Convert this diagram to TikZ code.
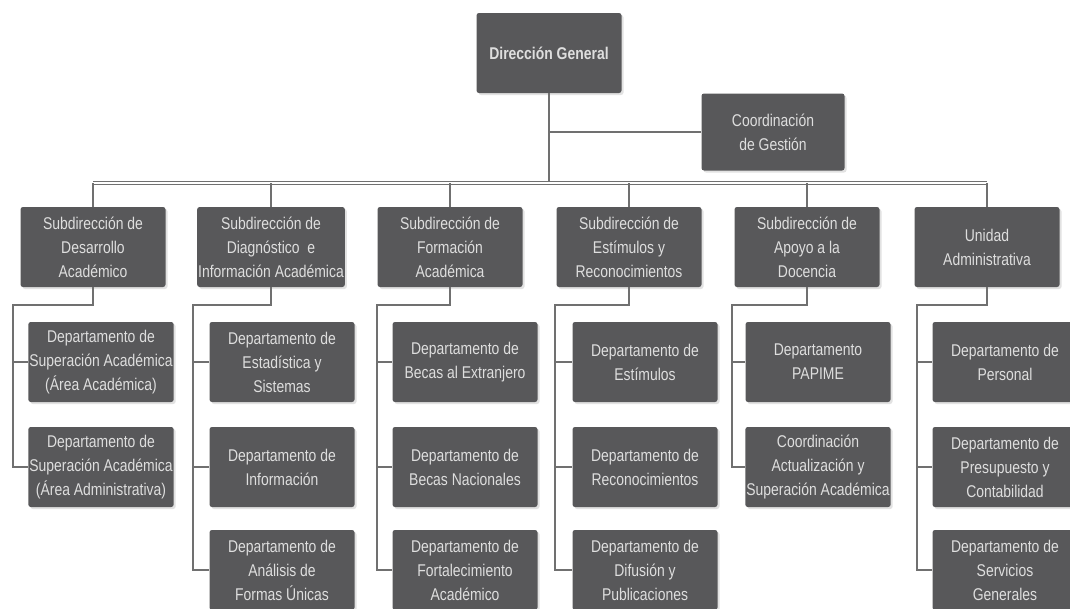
\documentclass[tikz,border=0pt]{standalone}
\usepackage{fontspec}
\setmainfont{Liberation Sans}[FakeStretch=0.82]
\usetikzlibrary{shadows}

\definecolor{boxgray}{HTML}{58585A}
\definecolor{boxtext}{HTML}{DEDEDE}
\definecolor{linegray}{HTML}{707070}

\begin{document}
\begin{tikzpicture}[x=1pt,y=-1pt,
    unitbox/.style={fill=boxgray, rounded corners=2.5pt, text=boxtext, align=center,
      minimum width=145pt, minimum height=80pt, inner sep=1pt,
      font=\fontsize{17}{24}\selectfont,
      drop shadow={shadow xshift=2pt, shadow yshift=-2pt, fill=black!22}},
    link/.style={draw=linegray, line width=1.3pt},
    busline/.style={draw=linegray, line width=0.9pt, double=white, double distance=1.8pt}]
  % Canvas
  \fill[white] (0,0) rectangle (1070,608);
  \useasboundingbox (0,0) rectangle (1070,608);

  % Top level
  \node[unitbox, font=\bfseries\fontsize{17}{24}\selectfont] (dg) at (549,53) {Dirección General};
  \node[unitbox, minimum width=143pt, minimum height=77pt] (cg) at (773,132) {Coordinación\\de Gestión};
  \coordinate (bus) at (549,183);

  % Subdirecciones
  \node[unitbox] (sub1) at (93,247)  {Subdirección de\\Desarrollo\\Académico};
  \node[unitbox] (sub2) at (271,247) {Subdirección de\\Diagnóstico\ \ e\\Información Académica};
  \node[unitbox] (sub3) at (450,247) {Subdirección de\\Formación\\Académica};
  \node[unitbox] (sub4) at (629,247) {Subdirección de\\Estímulos y\\Reconocimientos};
  \node[unitbox] (sub5) at (807,247) {Subdirección de\\Apoyo a la\\Docencia};
  \node[unitbox] (sub6) at (987,247) {Unidad\\Administrativa};

  % Departamentos
  \node[unitbox] (d1a) at (101,362) {Departamento de\\Superación Académica\\(Área Académica)};
  \node[unitbox] (d1b) at (101,467) {Departamento de\\Superación Académica\\(Área Administrativa)};
  \node[unitbox] (d2a) at (282,362) {Departamento de\\Estadística y\\Sistemas};
  \node[unitbox] (d2b) at (282,467) {Departamento de\\Información};
  \node[unitbox] (d2c) at (282,570) {Departamento de\\Análisis de\\Formas Únicas};
  \node[unitbox] (d3a) at (465,362) {Departamento de\\Becas al Extranjero};
  \node[unitbox] (d3b) at (465,467) {Departamento de\\Becas Nacionales};
  \node[unitbox] (d3c) at (465,570) {Departamento de\\Fortalecimiento\\Académico};
  \node[unitbox] (d4a) at (645,362) {Departamento de\\Estímulos};
  \node[unitbox] (d4b) at (645,467) {Departamento de\\Reconocimientos};
  \node[unitbox] (d4c) at (645,570) {Departamento de\\Difusión y\\Publicaciones};
  \node[unitbox] (d5a) at (818,362) {Departamento\\PAPIME};
  \node[unitbox] (d5b) at (818,467) {Coordinación\\Actualización y\\Superación Académica};
  \node[unitbox] (d6a) at (1005,362) {Departamento de\\Personal};
  \node[unitbox] (d6b) at (1005,467) {Departamento de\\Presupuesto y\\Contabilidad};
  \node[unitbox] (d6c) at (1005,570) {Departamento de\\Servicios\\Generales};

  % Trunk and bus
  \draw[link] (dg.south) -- (dg.south |- bus);
  \draw[link] (dg.south |- cg.west) -- (cg.west);
  \draw[busline] (sub1.north |- bus) -- (sub6.north |- bus);
  \foreach \s in {sub1,sub2,sub3,sub4,sub5,sub6}
    \draw[link] (\s.north |- bus) -- (\s.north);

  % Elbows down to the departments
  \coordinate (c1) at (13,305);
  \coordinate (c2) at (193,305);
  \coordinate (c3) at (377,305);
  \coordinate (c4) at (555,305);
  \coordinate (c5) at (732,305);
  \coordinate (c6) at (917,305);
  \draw[link] (sub1.south) |- (c1) |- (d1b.west);
  \draw[link] (sub2.south) |- (c2) |- (d2c.west);
  \draw[link] (sub3.south) |- (c3) |- (d3c.west);
  \draw[link] (sub4.south) |- (c4) |- (d4c.west);
  \draw[link] (sub5.south) |- (c5) |- (d5b.west);
  \draw[link] (sub6.south) |- (c6) |- (d6c.west);
  \foreach \c/\d in {c1/d1a,c2/d2a,c2/d2b,c3/d3a,c3/d3b,c4/d4a,c4/d4b,c5/d5a,c6/d6a,c6/d6b}
    \draw[link] (\c |- \d.west) -- (\d.west);
\end{tikzpicture}
\end{document}
